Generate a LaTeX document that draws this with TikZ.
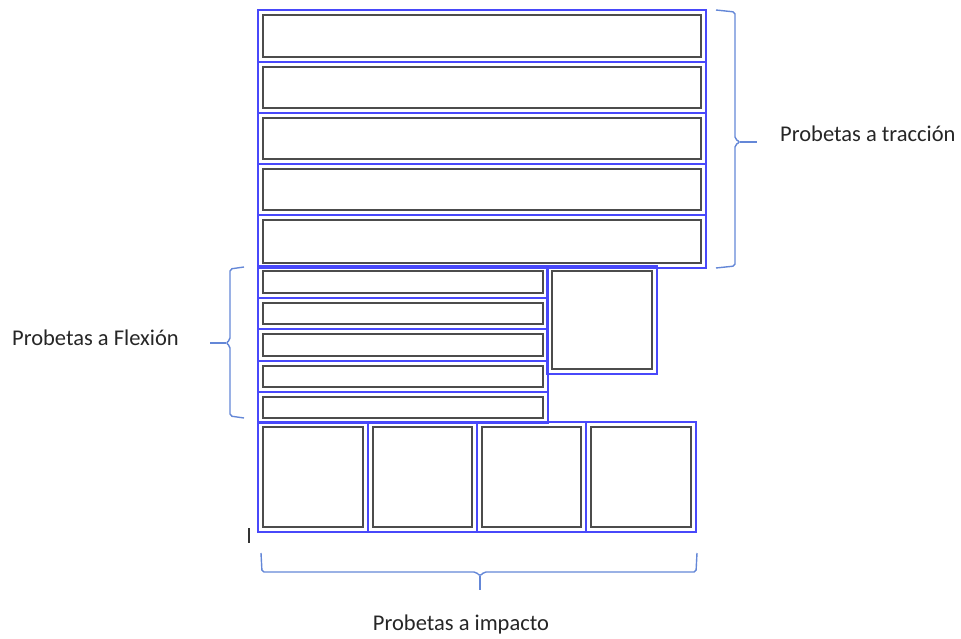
\documentclass[tikz,border=0pt]{standalone}
\usepackage{fontspec}
\setmainfont{Carlito}
\definecolor{marco}{RGB}{72,72,250}
\definecolor{llave}{RGB}{100,135,215}
\tikzset{
  marco/.style={draw=marco, line width=1.8pt},
  pieza/.style={draw=black!70, line width=2.6pt},
  llave/.style={draw=llave, line width=1.4pt, rounded corners=2pt},
  etiqueta/.style={font=\fontsize{22.5}{26}\selectfont, text=black!85, inner sep=0pt}
}
% x1 y1 x2 y2: marco azul con la probeta dentro
\newcommand{\probeta}[4]{%
  \draw[marco] (#1,#2) rectangle (#3,#4);
  \draw[pieza] (#1+5,#2+5) rectangle (#3-5,#4-5);
}

\begin{document}
\begin{tikzpicture}[x=1pt, y=-1pt]
    \useasboundingbox (0,0) rectangle (961,639);
    % probetas a traccion
    \foreach \ya/\yb in {10/62,62/113,113/164,164/215,215/268}
      {\probeta{258}{\ya}{706}{\yb}}
    % probetas a flexion
    \foreach \ya/\yb in {266/298,298/329,329/361,361/392,392/423}
      {\probeta{258}{\ya}{548}{\yb}}
    \probeta{547}{266}{657}{374}
    % probetas a impacto
    \foreach \xa/\xb in {258/368,368/477,477/586,586/696}
      {\probeta{\xa}{422}{\xb}{532}}
    \draw[black!80, line width=1.3pt] (249,528) -- (249,543);

    % llaves
    \draw[llave] (716,10) -- (735,12) -- (735,139) -- (740,142) -- (735,145) -- (735,266) -- (716,268);
    \draw[llave] (740,142) -- (757,142);
    \draw[llave] (244,267) -- (230,269) -- (230,340) -- (226,343) -- (230,346) -- (230,416) -- (244,418);
    \draw[llave] (226,343) -- (210,343);
    \draw[llave] (261,553) -- (262,572) -- (476,572) -- (480,576) -- (484,572) -- (696,572) -- (697,553);
    \draw[llave] (480,576) -- (480,590);

    \node[etiqueta, anchor=west] (traccion) at (780,134) {Probetas a tracción};
    \node[etiqueta, anchor=west] (flexion) at (12,338) {Probetas a Flexión};
    \node[etiqueta] (impacto) at (461,624) {Probetas a impacto};
\end{tikzpicture}
\end{document}
